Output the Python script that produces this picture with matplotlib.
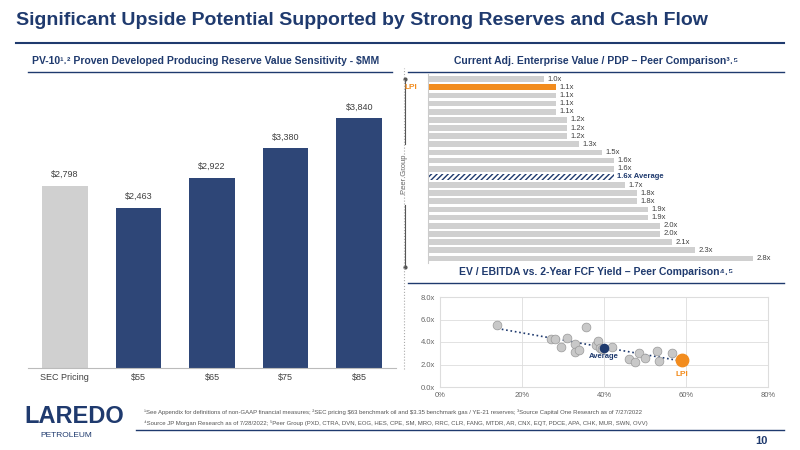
import matplotlib
matplotlib.use("Agg")
import matplotlib.pyplot as plt
import numpy as np

plt.rcParams['font.family'] = ['Liberation Sans', 'DejaVu Sans']
plt.rcParams['text.parse_math'] = False
NAVY = '#1f3a6e'; BAR = '#2e4677'; GREY = '#d0d0d0'; ORANGE = '#f28c1e'; TXT = '#404040'

pv_cats = ['SEC Pricing', '$55', '$65', '$75', '$85']
pv_vals = [2798, 2463, 2922, 3380, 3840]

ev_vals = [1.0, 1.1, 1.1, 1.1, 1.1, 1.2, 1.2, 1.2, 1.3, 1.5, 1.6, 1.6, 1.6, 1.7, 1.8, 1.8, 1.9, 1.9, 2.0, 2.0, 2.1, 2.3, 2.8]
ev_lpi_index = 1
ev_avg_index = 12

fcf_x = [14, 27, 28, 31, 29.5, 33, 33, 34, 35.5, 38, 38.5, 39, 39.5, 42, 46, 47.5, 48.5, 50, 53, 53.5, 56.5]
fcf_y = [5.5, 4.3, 4.3, 4.4, 3.6, 3.8, 3.1, 3.3, 5.3, 3.7, 4.1, 3.5, 3.4, 3.6, 2.5, 2.2, 3.0, 2.6, 3.2, 2.3, 3.0]
avg_pt = (40, 3.5)
lpi_pt = (59, 2.4)

fig = plt.figure(figsize=(8, 4.5), dpi=100)
fig.text(0.02, 0.955, 'Significant Upside Potential Supported by Strong Reserves and Cash Flow',
         fontsize=14, fontweight='bold', color=NAVY, va='center')
fig.add_artist(plt.Line2D([0.02, 0.98], [0.905, 0.905], color=NAVY, lw=1.5))

# Left
fig.text(0.04, 0.865, 'PV-10¹˒² Proven Developed Producing Reserve Value Sensitivity - $MM',
         fontsize=7.5, fontweight='bold', color=NAVY, va='center')
fig.add_artist(plt.Line2D([0.035, 0.49], [0.84, 0.84], color=NAVY, lw=1))
ax = fig.add_axes([0.035, 0.182, 0.46, 0.63])
cols = [GREY] + [BAR] * 4
x = np.arange(len(pv_cats))
ax.bar(x, pv_vals, width=0.62, color=cols)
for xi, v in zip(x, pv_vals):
    ax.text(xi, v + 130, f'${v:,}', ha='center', fontsize=6.5, color=TXT)
ax.set_xticks(x); ax.set_xticklabels(pv_cats, fontsize=6.5, color=TXT)
ax.set_ylim(0, 4350); ax.set_xlim(-0.5, 4.5)
ax.set_yticks([])
for s in ['top', 'right', 'left']: ax.spines[s].set_visible(False)
ax.spines['bottom'].set_color('#bbbbbb'); ax.tick_params(axis='x', length=0)

fig.add_artist(plt.Line2D([0.505, 0.505], [0.18, 0.85], color='#aaaaaa', lw=0.8, ls=':'))

# Right top
fig.text(0.745, 0.865, 'Current Adj. Enterprise Value / PDP – Peer Comparison³˒⁵',
         fontsize=7.5, fontweight='bold', color=NAVY, va='center', ha='center')
fig.add_artist(plt.Line2D([0.51, 0.98], [0.84, 0.84], color=NAVY, lw=1))
ax2 = fig.add_axes([0.535, 0.415, 0.435, 0.42])
for i, v in enumerate(ev_vals):
    if i == ev_lpi_index:
        ax2.barh(i, v, height=0.7, color=ORANGE)
        ax2.text(v + 0.03, i, f'{v:.1f}x', va='center', fontsize=5.5, color=TXT)
        ax2.text(-0.15, i, 'LPI', va='center', ha='center', fontsize=6, color=ORANGE, fontweight='bold')
    elif i == ev_avg_index:
        ax2.barh(i, v, height=0.7, color='white', edgecolor=NAVY, hatch='//////', lw=0)
        ax2.text(v + 0.03, i, f'{v:.1f}x Average', va='center', fontsize=5.5, color=NAVY, fontweight='bold')
    else:
        ax2.barh(i, v, height=0.7, color=GREY)
        ax2.text(v + 0.03, i, f'{v:.1f}x', va='center', fontsize=5.5, color=TXT)
ax2.set_ylim(len(ev_vals) - 0.4, -0.6); ax2.set_xlim(0, 3.0)
ax2.set_xticks([]); ax2.set_yticks([])
for s in ['top', 'right', 'bottom']: ax2.spines[s].set_visible(False)
ax2.spines['left'].set_color('#cccccc')
ax2.plot([-0.2, -0.2], [0, 8], color='#555555', lw=0.8, clip_on=False)
ax2.plot([-0.2, -0.2], [15.5, 23], color='#555555', lw=0.8, clip_on=False)
ax2.plot([-0.2, -0.2], [0, 23], 'o', color='#555555', ms=2, clip_on=False)
ax2.text(-0.2, 11.7, 'Peer Group', rotation=90, ha='center', va='center', fontsize=5.5, color='#666666')

# Right bottom
fig.text(0.745, 0.395, 'EV / EBITDA vs. 2-Year FCF Yield – Peer Comparison⁴˒⁵',
         fontsize=7.5, fontweight='bold', color=NAVY, va='center', ha='center')
fig.add_artist(plt.Line2D([0.51, 0.98], [0.372, 0.372], color=NAVY, lw=1))
ax3 = fig.add_axes([0.55, 0.14, 0.41, 0.2])
ax3.scatter(fcf_x, fcf_y, s=40, color='#c8c8c8', edgecolor='#999999', lw=0.5, zorder=3)
ax3.plot([14, 59], [5.2, 2.3], ls=':', color=NAVY, lw=1.2, zorder=2)
ax3.scatter([avg_pt[0]], [avg_pt[1]], s=35, color=NAVY, zorder=4)
ax3.scatter([lpi_pt[0]], [lpi_pt[1]], s=80, color=ORANGE, zorder=4)
ax3.text(avg_pt[0], avg_pt[1] - 0.9, 'Average', ha='center', fontsize=5.5, color=NAVY, fontweight='bold')
ax3.text(lpi_pt[0], lpi_pt[1] - 1.4, 'LPI', ha='center', fontsize=6, color=ORANGE, fontweight='bold')
ax3.set_xlim(0, 80); ax3.set_ylim(0, 8)
ax3.set_xticks([0, 20, 40, 60, 80]); ax3.set_xticklabels(['0%', '20%', '40%', '60%', '80%'])
ax3.set_yticks([0, 2, 4, 6, 8]); ax3.set_yticklabels(['0.0x', '2.0x', '4.0x', '6.0x', '8.0x'])
ax3.tick_params(labelsize=5.5, colors='#666666', length=0)
ax3.grid(color='#dddddd', lw=0.6)
for s in ax3.spines.values(): s.set_color('#dddddd')

# Footer
fig.text(0.03, 0.075, 'LAREDO', fontsize=17, color=NAVY, va='center', fontweight='bold')
fig.text(0.05, 0.033, 'PETROLEUM', fontsize=6, color=NAVY, va='center')
fig.text(0.18, 0.083, '¹See Appendix for definitions of non-GAAP financial measures; ²SEC pricing $63 benchmark oil and $3.35 benchmark gas / YE-21 reserves; ³Source Capital One Research as of 7/27/2022',
         fontsize=4.3, color='#555555', va='center')
fig.text(0.18, 0.06, '⁴Source JP Morgan Research as of 7/28/2022; ⁵Peer Group (PXD, CTRA, DVN, EOG, HES, CPE, SM, MRO, RRC, CLR, FANG, MTDR, AR, CNX, EQT, PDCE, APA, CHK, MUR, SWN, OVV)',
         fontsize=4.3, color='#555555', va='center')
fig.add_artist(plt.Line2D([0.17, 0.98], [0.045, 0.045], color=NAVY, lw=1))
fig.text(0.96, 0.02, '10', fontsize=8, color=NAVY, fontweight='bold', ha='right', va='center')

fig.savefig('out.png', dpi=100)
